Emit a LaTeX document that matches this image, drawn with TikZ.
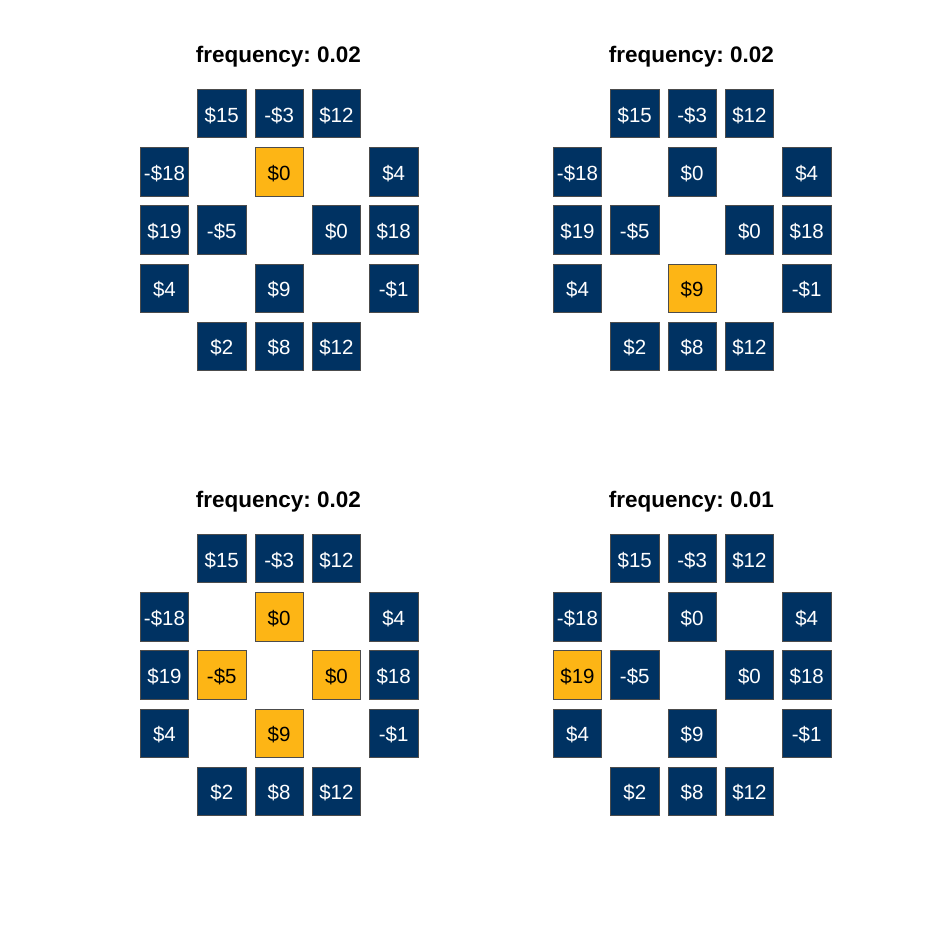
\documentclass[tikz,border=0pt]{standalone}
\usepackage{fontspec}
\setmainfont{Liberation Sans}
\frenchspacing
\definecolor{navy}{RGB}{0,50,98}
\definecolor{gold}{RGB}{253,181,21}

\tikzset{
  cellbox/.style={draw=black!70, line width=0.7pt, minimum width=48.5pt, minimum height=48.5pt,
    inner sep=0pt, text height=17pt, text depth=0pt, font=\fontsize{20.5}{24}\selectfont},
  paneltitle/.style={font=\bfseries\fontsize{22.5}{27}\selectfont, anchor=base},
}

\makeatletter
% #1 name, #2/#3 offset, #4 frequency, #5 highlighted cells (row col)
\newcommand\drawpanel[5]{%
  \node[paneltitle] (#1-title) at (#2+278.5,#3+62) {frequency: #4};
  \foreach \r/\c/\v in {1/2/\$15, 1/3/-\$3, 1/4/\$12,
                        2/1/-\$18, 2/3/\$0, 2/5/\$4,
                        3/1/\$19, 3/2/-\$5, 3/4/\$0, 3/5/\$18,
                        4/1/\$4, 4/3/\$9, 4/5/-\$1,
                        5/2/\$2, 5/3/\$8, 5/4/\$12} {
    \edef\cellkey{,\r\c,}
    \expandafter\in@\expandafter{\cellkey}{#5}
    \ifin@ \def\cellfill{gold}\def\celltext{black}\else\def\cellfill{navy}\def\celltext{white}\fi
    \node[cellbox, fill=\cellfill, text=\celltext] (#1-\r\c)
      at ({#2+164.5+57.3*(\c-1)},{#3+113.5+58.2*(\r-1)}) {\v};
  }
}
\makeatother

\begin{document}
\begin{tikzpicture}[x=1pt,y=-1pt]
\useasboundingbox[fill=white] (0,0) rectangle (938,938);

\drawpanel{tl}{0}{0}{0.02}{,23,}
\drawpanel{tr}{413}{0}{0.02}{,43,}
\drawpanel{bl}{0}{445}{0.02}{,23,32,34,43,}
\drawpanel{br}{413}{445}{0.01}{,31,}
\end{tikzpicture}
\end{document}
